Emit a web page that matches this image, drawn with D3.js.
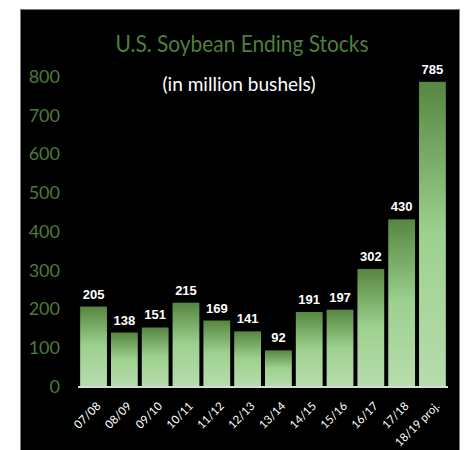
<!DOCTYPE html>
<html>
<head>
<meta charset="utf-8">
<script src="https://cdn.jsdelivr.net/npm/d3@7"></script>
<style>
  html, body { margin: 0; padding: 0; background: #fff; }
  svg { display: block; }
</style>
</head>
<body>
<script>
// Marketing years and ending stocks (million bushels)
const seasons = ["07/08", "08/09", "09/10", "10/11", "11/12", "12/13", "13/14", "14/15", "15/16", "16/17", "17/18", "18/19 proj."];
const stocks = [205, 138, 151, 215, 169, 141, 92, 191, 197, 302, 430, 785];
const yTicks = [0, 100, 200, 300, 400, 500, 600, 700, 800];

const W = 470, H = 450;
const svg = d3.select("body").append("svg").attr("width", W).attr("height", H);

// black panel
svg.append("rect").attr("x", 20.5).attr("y", 9.5).attr("width", 439).attr("height", 450)
  .attr("fill", "#000").attr("stroke", "#7a7a7a").attr("stroke-width", 1);

const x = d3.scaleBand().domain(seasons).range([78, 448]).paddingInner(0.13).paddingOuter(0.07);
const y = d3.scaleLinear().domain([0, 800]).range([386, 76]);

// vertical gradient applied to each bar
const defs = svg.append("defs");
const grad = defs.append("linearGradient").attr("id", "barGrad")
  .attr("x1", 0).attr("y1", 0).attr("x2", 0).attr("y2", 1);
grad.append("stop").attr("offset", "0%").attr("stop-color", "#568641");
grad.append("stop").attr("offset", "50%").attr("stop-color", "#9dd18f");
grad.append("stop").attr("offset", "100%").attr("stop-color", "#b7dcad");

// titles
svg.append("text").attr("x", 242).attr("y", 52).attr("text-anchor", "middle")
  .attr("font-family", "Lato, sans-serif").attr("font-size", 24).attr("fill", "#4f7f3b")
  .attr("textLength", 253).attr("lengthAdjust", "spacingAndGlyphs")
  .text("U.S. Soybean Ending Stocks");
svg.append("text").attr("x", 239).attr("y", 91).attr("text-anchor", "middle")
  .attr("font-family", "Lato, sans-serif").attr("font-size", 19).attr("fill", "#fff")
  .attr("textLength", 153).attr("lengthAdjust", "spacingAndGlyphs")
  .text("(in million bushels)");

// y axis labels
const yAxis = svg.append("g").attr("transform", "translate(60,0)")
  .call(d3.axisLeft(y).tickValues(yTicks).tickSize(0).tickPadding(0));
yAxis.select(".domain").remove();
yAxis.selectAll("text").attr("font-family", "Lato, sans-serif").attr("font-size", 18)
  .attr("fill", "#4e7a38").attr("dy", "0.35em");

// bars
svg.append("g").selectAll("rect").data(stocks).join("rect")
  .attr("x", (d, i) => x(seasons[i]))
  .attr("y", d => y(d))
  .attr("width", x.bandwidth())
  .attr("height", d => y(0) - y(d))
  .attr("fill", "url(#barGrad)");

// value labels
svg.append("g").selectAll("text").data(stocks).join("text")
  .attr("x", (d, i) => x(seasons[i]) + x.bandwidth() / 2)
  .attr("y", d => y(d) - 8)
  .attr("text-anchor", "middle")
  .attr("font-family", "'Liberation Sans Narrow', 'Arial Narrow', 'Liberation Sans', sans-serif")
  .attr("font-weight", "bold").attr("font-size", 13).attr("fill", "#fff")
  .text(d => d);

// category axis
const xAxis = svg.append("g").attr("transform", `translate(0,${y(0)})`)
  .call(d3.axisBottom(x).tickSize(0).tickPadding(0));
xAxis.select(".domain").attr("stroke", "#d9d9d9").attr("stroke-width", 2)
  .attr("d", "M78,1H448");
xAxis.selectAll("text")
  .attr("font-family", "Lato, sans-serif").attr("font-size", 11.5).attr("fill", "#fff")
  .attr("text-anchor", "end")
  .attr("dy", "0.35em")
  .attr("transform", "translate(5,18) rotate(-45)");
</script>
</body>
</html>
